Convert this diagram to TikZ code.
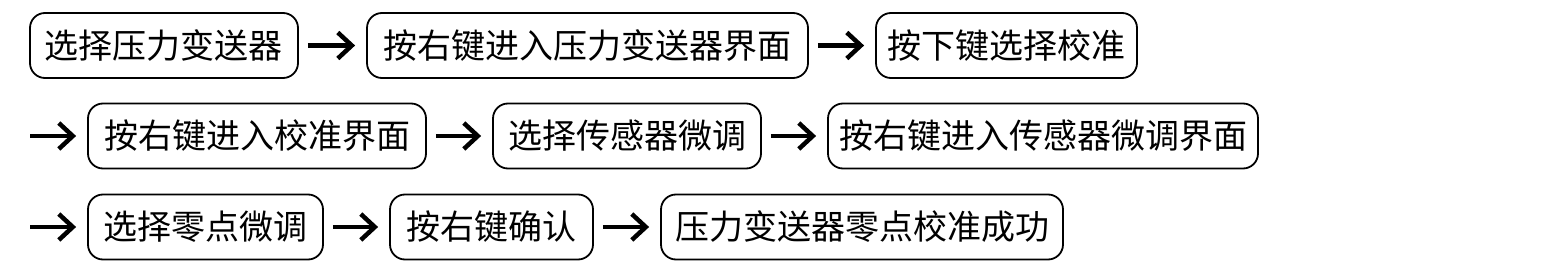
\documentclass[tikz,border=0pt]{standalone}
\usepackage{fontspec}
\setmainfont{Noto Sans CJK SC}
\usetikzlibrary{arrows.meta}
\tikzset{
  stepbox/.style={draw, line width=1.8pt, rounded corners=15pt, inner sep=0pt,
    minimum height=65pt, align=center, font=\fontsize{34pt}{40pt}\selectfont,
    text height=30pt, text depth=4.5pt},
  flow/.style={line width=4.5pt, -{Straight Barb[length=14pt, width=26pt]},
    shorten <=9pt, shorten >=11pt}
}
\begin{document}
\begin{tikzpicture}[x=1pt, y=-1pt]
\useasboundingbox (0,0) rectangle (1551,273);
% row 1
\node[stepbox, minimum width=268pt] (b1) at (164,45.5) {选择压力变送器};
\node[stepbox, minimum width=441pt] (b2) at (587.5,45.5) {按右键进入压力变送器界面};
\node[stepbox, minimum width=261pt] (b3) at (1006.5,45.5) {按下键选择校准};
% row 2
\coordinate (s2) at (21,136);
\node[stepbox, minimum width=338pt] (b4) at (257,136) {按右键进入校准界面};
\node[stepbox, minimum width=268pt] (b5) at (627,136) {选择传感器微调};
\node[stepbox, minimum width=430pt] (b6) at (1043,136) {按右键进入传感器微调界面};
% row 3
\coordinate (s3) at (21,227);
\node[stepbox, minimum width=235pt] (b7) at (205.5,227) {选择零点微调};
\node[stepbox, minimum width=203pt] (b8) at (491.5,227) {按右键确认};
\node[stepbox, minimum width=402pt] (b9) at (862,227) {压力变送器零点校准成功};
% arrows
\draw[flow] (b1.east) -- (b2.west);
\draw[flow] (b2.east) -- (b3.west);
\draw[flow] (s2) -- (b4.west);
\draw[flow] (b4.east) -- (b5.west);
\draw[flow] (b5.east) -- (b6.west);
\draw[flow] (s3) -- (b7.west);
\draw[flow] (b7.east) -- (b8.west);
\draw[flow] (b8.east) -- (b9.west);
\end{tikzpicture}
\end{document}
